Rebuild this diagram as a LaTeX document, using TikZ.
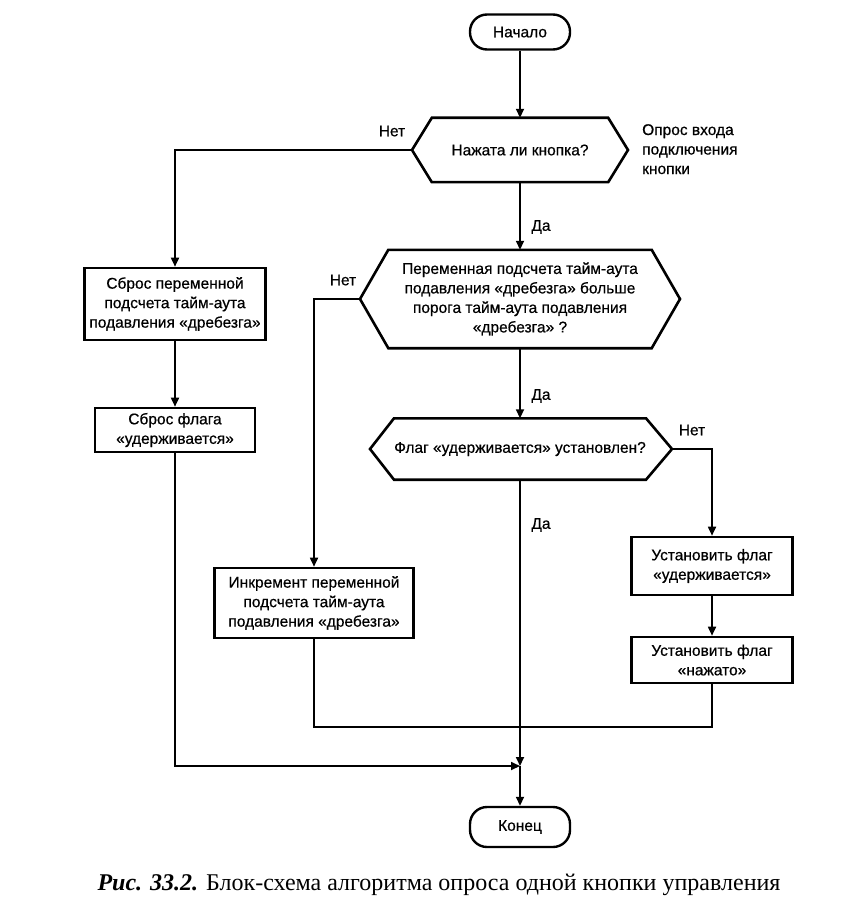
\documentclass[tikz,border=0pt]{standalone}
\usepackage{fontspec}
\setmainfont{Liberation Serif}
\newfontfamily\dsans[FakeBold=0.6]{Liberation Sans}
\usetikzlibrary{arrows.meta,calc}
\begin{document}
\begin{tikzpicture}[x=1pt,y=-1pt,
 every node/.style={font=\dsans\fontsize{15.5}{19.5}\selectfont},
 box/.style={draw,line width=2.6pt,align=center,inner sep=2pt},
 term/.style={draw,line width=2.4pt,rounded corners=17pt,align=center},
 dec/.style={align=center,inner sep=0pt},
 hex/.style={line width=2.6pt,line join=miter},
 conn/.style={line width=1.7pt},
 arr/.style={conn,-{Triangle[length=9pt,width=8pt]}},
 lbl/.style={inner sep=0pt}]
\useasboundingbox (0,0) rectangle (861,909);

% terminals
\node[term,minimum width=100pt,minimum height=35pt] (start) at (520,32) {Начало};
\node[term,minimum width=100pt,minimum height=40pt] (end) at (520,827) {Конец};

% decisions
\node[dec,minimum width=176pt,minimum height=64pt] (d1) at (520,150) {Нажата ли кнопка?};
\coordinate (d1l) at (412,150);
\coordinate (d1r) at (628,150);
\draw[hex] (d1.north west) -- (d1.north east) -- (d1r) -- (d1.south east) -- (d1.south west) -- (d1l) -- cycle;

\node[dec,minimum width=263pt,minimum height=98pt] (d2) at (520,299) {Переменная подсчета тайм-аута\\подавления «дребезга» больше\\порога тайм-аута подавления\\«дребезга» ?};
\coordinate (d2l) at (360,299);
\coordinate (d2r) at (680,299);
\draw[hex] (d2.north west) -- (d2.north east) -- (d2r) -- (d2.south east) -- (d2.south west) -- (d2l) -- cycle;

\node[dec,minimum width=244pt,minimum height=61pt] (d3) at (520,449) {Флаг «удерживается» установлен?};
\coordinate (d3l) at (370,449);
\coordinate (d3r) at (672,449);
\draw[hex] (d3.north west) -- (d3.north east) -- (d3r) -- (d3.south east) -- (d3.south west) -- (d3l) -- cycle;

% process boxes
\node[box,minimum width=181pt,minimum height=72pt] (b1) at (175,304) {Сброс переменной\\подсчета тайм-аута\\подавления «дребезга»};
\node[box,minimum width=160pt,minimum height=44pt] (b2) at (175,430) {Сброс флага\\«удерживается»};
\node[box,minimum width=199pt,minimum height=70pt] (inc) at (314,603) {Инкремент переменной\\подсчета тайм-аута\\подавления «дребезга»};
\node[box,minimum width=161pt,minimum height=58pt] (s1) at (712,566) {Установить флаг\\«удерживается»};
\node[box,minimum width=161pt,minimum height=46pt] (s2) at (712,660) {Установить флаг\\«нажато»};

% connectors
\coordinate (mj) at (520,766);
\coordinate (jb) at (520,727);
\draw[arr] (start.south) -- (d1.north);
\draw[arr] (d1l) -| (b1.north);
\draw[arr] (d1.south) -- (d2.north);
\draw[arr] (d2l) -| (inc.north);
\draw[arr] (d2.south) -- (d3.north);
\draw[arr] (d3r) -| (s1.north);
\draw[arr] (b1.south) -- (b2.north);
\draw[arr] (s1.south) -- (s2.north);
\draw[arr] (d3.south) -- (mj);
\draw[arr] (b2.south) |- (mj);
\draw[arr] (mj) -- (end.north);
\draw[conn] (inc.south) |- (jb) -| (s2.south);

% labels
\node[lbl] (n1) at (392,131) {Нет};
\node[lbl] (n2) at (343,280) {Нет};
\node[lbl] (n3) at (692,430) {Нет};
\node[lbl] (y1) at (541,227) {Да};
\node[lbl] (y2) at (541,396) {Да};
\node[lbl] (y3) at (541,525) {Да};
\node[lbl,align=left,anchor=north west] (note) at (642,124) {Опрос входа\\подключения\\кнопки};

% caption
\node[font=\rmfamily\fontsize{24}{27}\selectfont,anchor=base,inner sep=0pt] (cap) at (439,890) {\textbf{\textit{Рис. 33.2.}} Блок-схема алгоритма опроса одной кнопки управления};
\end{tikzpicture}
\end{document}
